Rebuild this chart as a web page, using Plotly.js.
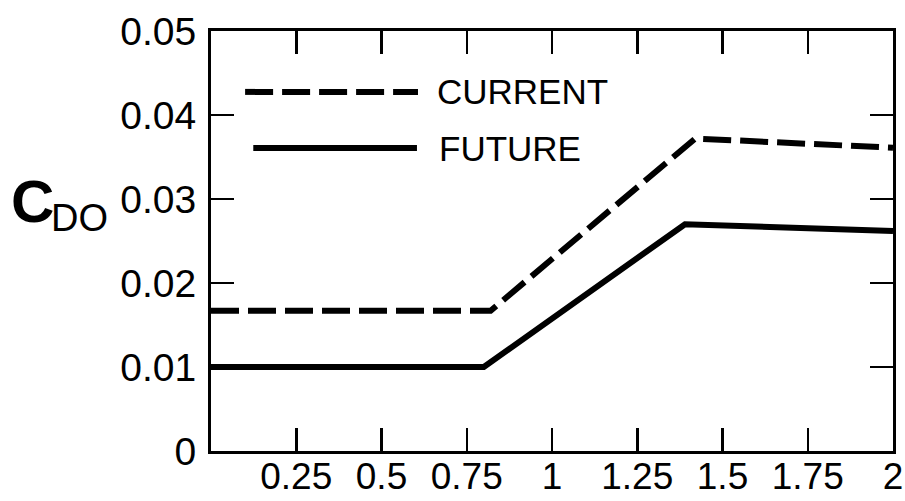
<!DOCTYPE html>
<html>
<head>
<meta charset="utf-8">
<script src="https://cdn.plot.ly/plotly-3.0.1.min.js"></script>
<style>html,body{margin:0;padding:0;background:#fff;}#chart{width:905px;height:501px;}</style>
</head>
<body>
<div id="chart"></div>
<script>
// Data
var currentX = [0, 0.82, 1.42, 2];
var currentY = [0.0167, 0.0167, 0.0372, 0.0361];
var futureX = [0, 0.80, 1.39, 2];
var futureY = [0.0100, 0.0100, 0.0270, 0.0262];
var seriesNames = ["CURRENT", "FUTURE"];
var xTickVals = [0.25, 0.5, 0.75, 1, 1.25, 1.5, 1.75, 2];
var xTickText = ["0.25", "0.5", "0.75", "1", "1.25", "1.5", "1.75", "2"];
var yTickVals = [0, 0.01, 0.02, 0.03, 0.04, 0.05];
var yTickText = ["0", "0.01", "0.02", "0.03", "0.04", "0.05"];

var FONT = "Liberation Sans, Arial, sans-serif";

var traces = [
  {x: currentX, y: currentY, mode: "lines", name: seriesNames[0],
   line: {color: "#000", width: 6, dash: "28px,9px"}},
  {x: futureX, y: futureY, mode: "lines", name: seriesNames[1],
   line: {color: "#000", width: 6}}
];

var axisCommon = {
  showgrid: false, zeroline: false, showline: true, linecolor: "#000", linewidth: 3,
  mirror: "ticks", ticks: "inside", ticklen: 23, tickwidth: 2.5, tickcolor: "#000",
  tickfont: {family: FONT, size: 39, color: "#000"}, fixedrange: true
};

var layout = {
  width: 905, height: 501,
  margin: {l: 211, r: 12, t: 31, b: 50, pad: 0},
  paper_bgcolor: "#fff", plot_bgcolor: "#fff",
  showlegend: false,
  xaxis: Object.assign({}, axisCommon, {range: [0, 2], tickmode: "array", tickvals: xTickVals, ticktext: xTickText,
    tickfont: {family: FONT, size: 37, color: "#000"}, ticklabelstandoff: -9}),
  yaxis: Object.assign({}, axisCommon, {range: [0, 0.05], tickmode: "array", tickvals: yTickVals, ticktext: yTickText, ticklabelstandoff: 4}),
  shapes: [
    {type: "line", xref: "paper", yref: "paper", x0: 0.050, x1: 0.3035, y0: 0.855, y1: 0.855,
     line: {color: "#000", width: 6, dash: "28px,9px"}},
    {type: "line", xref: "paper", yref: "paper", x0: 0.062, x1: 0.302, y0: 0.7214, y1: 0.7214,
     line: {color: "#000", width: 6}}
  ],
  annotations: [
    {xref: "paper", yref: "paper", x: 0.3284, y: 0.855, xanchor: "left", yanchor: "middle",
     text: seriesNames[0], showarrow: false, font: {family: FONT, size: 35, color: "#000"}},
    {xref: "paper", yref: "paper", x: 0.3314, y: 0.7214, xanchor: "left", yanchor: "middle",
     text: seriesNames[1], showarrow: false, font: {family: FONT, size: 35, color: "#000"}},
    {xref: "paper", yref: "paper", x: 0, y: 0.595, xanchor: "left", yanchor: "middle", xshift: -202,
     text: "<b>C</b>", showarrow: false, font: {family: FONT, size: 60, color: "#000"}},
    {xref: "paper", yref: "paper", x: 0, y: 0.555, xanchor: "left", yanchor: "middle", xshift: -162,
     text: "DO", showarrow: false, font: {family: FONT, size: 38, color: "#000"}}
  ]
};

Plotly.newPlot("chart", traces, layout, {displayModeBar: false, staticPlot: true});
</script>
</body>
</html>
